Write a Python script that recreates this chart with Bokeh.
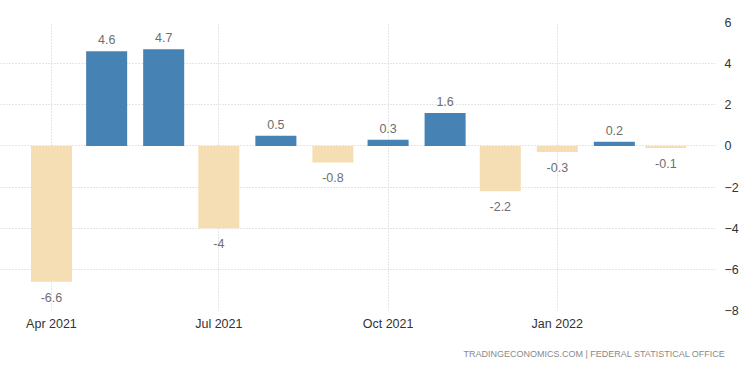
from datetime import datetime
import pandas as pd
from bokeh.plotting import figure
from bokeh.models import (ColumnDataSource, Range1d, FixedTicker, MonthsTicker,
                          DatetimeTickFormatter, Title)
from bokeh.core.properties import value
from bokeh.embed import file_html
from bokeh.resources import INLINE

# ---- data ----
months = ["2021-04", "2021-05", "2021-06", "2021-07", "2021-08", "2021-09",
          "2021-10", "2021-11", "2021-12", "2022-01", "2022-02", "2022-03"]
values = [-6.6, 4.6, 4.7, -4, 0.5, -0.8, 0.3, 1.6, -2.2, -0.3, 0.2, -0.1]
y_ticks = [6, 4, 2, 0, -2, -4, -6, -8]
source_note = "TRADINGECONOMICS.COM  |  FEDERAL STATISTICAL OFFICE"

POS = "#4682B4"
NEG = "#F5DEB3"
FONT = "Liberation Sans"

dates = pd.to_datetime(months)
df = pd.DataFrame({
    "x": dates,
    "v": values,
    "lbl": [f"{v:g}" for v in values],
    "color": [POS if v >= 0 else NEG for v in values],
})
src = ColumnDataSource(df)
src_pos = ColumnDataSource(df[df.v >= 0])
src_neg = ColumnDataSource(df[df.v < 0])

p = figure(width=742, height=371, output_backend="svg", toolbar_location=None,
           x_axis_type="datetime", y_axis_location="right",
           x_range=Range1d(datetime(2021, 3, 4, 7), datetime(2022, 3, 28)),
           y_range=Range1d(-8, 6),
           min_border_left=0, min_border_right=27, min_border_top=22,
           min_border_bottom=61)
p.outline_line_color = None
p.background_fill_color = "white"
p.border_fill_color = "white"

bar_w = 22.3 * 24 * 3600 * 1000
p.vbar(x="x", top="v", bottom=0, width=bar_w, color="color", line_color=None,
       source=src)

p.text(x="x", y="v", text="lbl", source=src_pos, text_align="center",
       text_baseline="bottom", y_offset=-7, text_font=value(FONT),
       text_font_size="12.5px", text_color="#6e6e6e")
p.text(x="x", y="v", text="lbl", source=src_neg, text_align="center",
       text_baseline="top", y_offset=11, text_font=value(FONT),
       text_font_size="12.5px", text_color="#6e6e6e")

# x axis
p.xaxis.ticker = MonthsTicker(months=[0, 3, 6, 9])
p.xaxis.formatter = DatetimeTickFormatter(months="%b %Y", days="%b %Y",
                                          years="%b %Y")
p.xaxis.axis_line_color = None
p.xaxis.major_tick_line_color = None
p.xaxis.minor_tick_line_color = None
p.xaxis.major_label_standoff = 0
p.xaxis.major_label_text_font = FONT
p.xaxis.major_label_text_font_size = "12.5px"
p.xaxis.major_label_text_color = "#333333"

# y axis
p.yaxis.ticker = FixedTicker(ticks=y_ticks)
p.yaxis.axis_line_color = None
p.yaxis.major_tick_line_color = None
p.yaxis.minor_tick_line_color = None
p.yaxis.major_label_standoff = 3
p.yaxis.major_label_text_font = FONT
p.yaxis.major_label_text_font_size = "12.5px"
p.yaxis.major_label_text_color = "#333333"

# grids
p.xgrid.grid_line_color = "#cccccc"
p.xgrid.grid_line_dash = "1 2"
p.ygrid.grid_line_color = "#cccccc"
p.ygrid.grid_line_dash = "1 2"
p.ygrid.ticker = FixedTicker(ticks=y_ticks)

p.add_layout(Title(text=source_note, align="right", text_font=FONT,
                   text_font_size="9px", text_color="#8a8a8a",
                   text_font_style="normal", standoff=26, offset=-15), "below")

open("out.html", "w").write(file_html(p, INLINE))
